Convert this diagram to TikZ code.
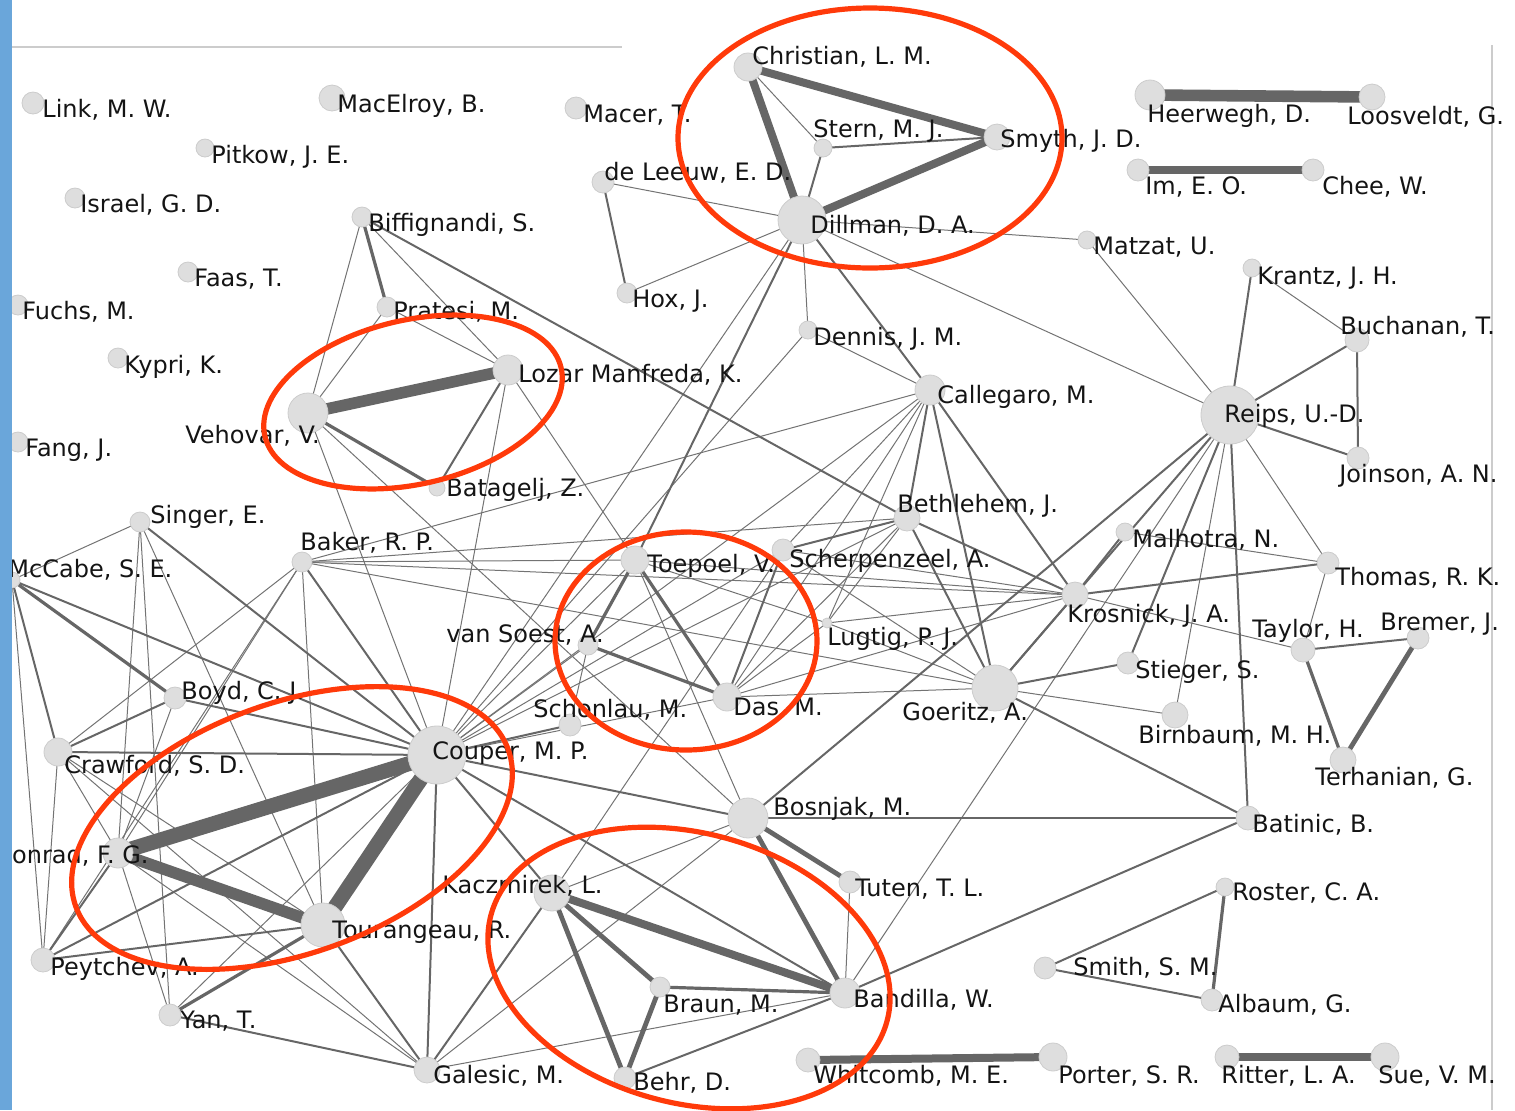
\documentclass[tikz,border=0pt]{standalone}
\usepackage{fontspec}
\setmainfont{DejaVu Sans}
\usetikzlibrary{backgrounds}
\definecolor{ringred}{HTML}{FF3A0A}
\definecolor{barblue}{HTML}{6AA6DA}

\begin{document}
\begin{tikzpicture}[x=0.5pt, y=-0.5pt,
  dot/.style={circle, fill=black!13, draw=black!20, line width=0.4pt, inner sep=0pt, minimum size=9pt},
  lbl/.style={anchor=base west, inner sep=0pt, font=\fontsize{12}{14}\selectfont, text=black!92},
  e1/.style={draw=black!55, line width=0.5pt},
  e2/.style={draw=black!60, line width=1pt},
  e3/.style={draw=black!60, line width=1.6pt},
  e4/.style={draw=black!60, line width=2.4pt},
  e5/.style={draw=black!60, line width=4pt},
  e6/.style={draw=black!60, line width=5.8pt},
  e7/.style={draw=black!60, line width=7.5pt},
  ring/.style={draw=ringred, line width=2.6pt}]
\useasboundingbox (0,0) rectangle (1515,1110);

\node[dot,minimum size=11pt](link) at (33,103){};
\node[lbl](link-t) at (42,117){Link, M. W.};
\node[dot,minimum size=13pt](macelroy) at (332,98){};
\node[lbl](macelroy-t) at (337,112){MacElroy, B.};
\node[dot](pitkow) at (205,148){};
\node[lbl](pitkow-t) at (211,163){Pitkow, J. E.};
\node[dot,minimum size=11pt](macer) at (576,108){};
\node[lbl](macer-t) at (583,122){Macer, T.};
\node[dot,minimum size=10pt](israel) at (75,198){};
\node[lbl](israel-t) at (80,212){Israel, G. D.};
\node[dot,minimum size=10pt](biffignandi) at (362,217){};
\node[lbl](biffignandi-t) at (368,231){Biffignandi, S.};
\node[dot,minimum size=10pt](faas) at (188,272){};
\node[lbl](faas-t) at (194,286){Faas, T.};
\node[dot,minimum size=10pt](fuchs) at (18,305){};
\node[lbl](fuchs-t) at (22,319){Fuchs, M.};
\node[dot,minimum size=10pt](pratesi) at (387,307){};
\node[lbl](pratesi-t) at (393,319){Pratesi, M.};
\node[dot,minimum size=10pt](kypri) at (118,358){};
\node[lbl](kypri-t) at (124,373){Kypri, K.};
\node[dot,minimum size=15pt](lozar) at (508,370){};
\node[lbl](lozar-t) at (518,382){Lozar Manfreda, K.};
\node[dot,minimum size=20pt](vehovar) at (308,413){};
\node[lbl](vehovar-t) at (185,443){Vehovar, V.};
\node[dot,minimum size=10pt](fang) at (18,442){};
\node[lbl](fang-t) at (25,456){Fang, J.};
\node[dot,minimum size=8pt](batagelj) at (437,488){};
\node[lbl](batagelj-t) at (446,496){Batagelj, Z.};
\node[dot,minimum size=10pt](singer) at (140,522){};
\node[lbl](singer-t) at (150,523){Singer, E.};
\node[dot,minimum size=10pt](baker) at (302,562){};
\node[lbl](baker-t) at (300,550){Baker, R. P.};
\node[dot,minimum size=8pt](mccabe) at (12,580){};
\node[lbl](mccabe-t) at (8,577){McCabe, S. E.};
\node[dot,minimum size=11pt](boyd) at (175,698){};
\node[lbl](boyd-t) at (181,699){Boyd, C. J.};
\node[dot,minimum size=14pt](crawford) at (58,752){};
\node[lbl](crawford-t) at (64,773){Crawford, S. D.};
\node[dot,minimum size=29pt](couper) at (437,755){};
\node[lbl](couper-t) at (432,759){Couper, M. P.};
\node[dot,minimum size=15pt](conrad) at (118,853){};
\node[lbl](conrad-t) at (-5,863){Conrad, F. G.};
\node[dot,minimum size=12pt](peytchev) at (43,960){};
\node[lbl](peytchev-t) at (50,975){Peytchev, A.};
\node[dot,minimum size=11pt](yan) at (170,1015){};
\node[lbl](yan-t) at (180,1028){Yan, T.};
\node[dot,minimum size=22pt](tourangeau) at (323,925){};
\node[lbl](tourangeau-t) at (332,938){Tourangeau, R.};
\node[dot,minimum size=13pt](galesic) at (427,1070){};
\node[lbl](galesic-t) at (433,1083){Galesic, M.};
\node[dot,minimum size=18pt](kaczmirek) at (552,893){};
\node[lbl](kaczmirek-t) at (442,893){Kaczmirek, L.};
\node[dot,minimum size=10pt](braun) at (660,987){};
\node[lbl](braun-t) at (663,1012){Braun, M.};
\node[dot,minimum size=11pt](behr) at (625,1078){};
\node[lbl](behr-t) at (633,1090){Behr, D.};
\node[dot,minimum size=15pt](bandilla) at (845,993){};
\node[lbl](bandilla-t) at (853,1007){Bandilla, W.};
\node[dot,minimum size=20pt](bosnjak) at (748,818){};
\node[lbl](bosnjak-t) at (773,815){Bosnjak, M.};
\node[dot,minimum size=11pt](tuten) at (850,882){};
\node[lbl](tuten-t) at (855,896){Tuten, T. L.};
\node[dot,minimum size=12pt](whitcomb) at (808,1060){};
\node[lbl](whitcomb-t) at (813,1083){Whitcomb, M. E.};
\node[dot,minimum size=14pt](porter) at (1053,1057){};
\node[lbl](porter-t) at (1058,1083){Porter, S. R.};
\node[dot,minimum size=12pt](ritter) at (1227,1057){};
\node[lbl](ritter-t) at (1221,1083){Ritter, L. A.};
\node[dot,minimum size=14pt](sue) at (1385,1057){};
\node[lbl](sue-t) at (1378,1083){Sue, V. M.};
\node[dot,minimum size=11pt](smith) at (1045,968){};
\node[lbl](smith-t) at (1073,975){Smith, S. M.};
\node[dot,minimum size=11pt](albaum) at (1212,1000){};
\node[lbl](albaum-t) at (1218,1012){Albaum, G.};
\node[dot](roster) at (1225,887){};
\node[lbl](roster-t) at (1232,900){Roster, C. A.};
\node[dot,minimum size=12pt](batinic) at (1248,818){};
\node[lbl](batinic-t) at (1252,832){Batinic, B.};
\node[dot,minimum size=13pt](terhanian) at (1343,760){};
\node[lbl](terhanian-t) at (1315,785){Terhanian, G.};
\node[dot,minimum size=13pt](birnbaum) at (1175,715){};
\node[lbl](birnbaum-t) at (1138,743){Birnbaum, M. H.};
\node[dot,minimum size=11pt](bremer) at (1418,638){};
\node[lbl](bremer-t) at (1380,630){Bremer, J.};
\node[dot,minimum size=12pt](taylor) at (1303,650){};
\node[lbl](taylor-t) at (1252,637){Taylor, H.};
\node[dot,minimum size=11pt](stieger) at (1128,663){};
\node[lbl](stieger-t) at (1135,678){Stieger, S.};
\node[dot,minimum size=23pt](goeritz) at (995,688){};
\node[lbl](goeritz-t) at (902,720){Goeritz, A.};
\node[dot,minimum size=14pt](das) at (727,697){};
\node[lbl](das-t) at (733,715){Das, M.};
\node[dot,minimum size=11pt](schonlau) at (570,725){};
\node[lbl](schonlau-t) at (533,717){Schonlau, M.};
\node[dot,minimum size=10pt](vansoest) at (588,645){};
\node[lbl](vansoest-t) at (446,642){van Soest, A.};
\node[dot,minimum size=14pt](toepoel) at (635,560){};
\node[lbl](toepoel-t) at (647,572){Toepoel, V.};
\node[dot,minimum size=11pt](scherpenzeel) at (783,550){};
\node[lbl](scherpenzeel-t) at (789,567){Scherpenzeel, A.};
\node[dot,minimum size=5pt](lugtig) at (827,623){};
\node[lbl](lugtig-t) at (827,645){Lugtig, P. J.};
\node[dot,minimum size=13pt](bethlehem) at (907,518){};
\node[lbl](bethlehem-t) at (897,512){Bethlehem, J.};
\node[dot,minimum size=15pt](callegaro) at (930,390){};
\node[lbl](callegaro-t) at (937,403){Callegaro, M.};
\node[dot](dennis) at (808,330){};
\node[lbl](dennis-t) at (813,345){Dennis, J. M.};
\node[dot,minimum size=13pt](krosnick) at (1075,595){};
\node[lbl](krosnick-t) at (1067,622){Krosnick, J. A.};
\node[dot](malhotra) at (1125,532){};
\node[lbl](malhotra-t) at (1132,547){Malhotra, N.};
\node[dot,minimum size=11pt](thomas) at (1328,563){};
\node[lbl](thomas-t) at (1335,585){Thomas, R. K.};
\node[dot,minimum size=29pt](reips) at (1230,415){};
\node[lbl](reips-t) at (1224,422){Reips, U.-D.};
\node[dot,minimum size=11pt](joinson) at (1358,458){};
\node[lbl](joinson-t) at (1339,482){Joinson, A. N.};
\node[dot,minimum size=12pt](buchanan) at (1357,340){};
\node[lbl](buchanan-t) at (1340,334){Buchanan, T.};
\node[dot](krantz) at (1252,268){};
\node[lbl](krantz-t) at (1257,284){Krantz, J. H.};
\node[dot](matzat) at (1087,240){};
\node[lbl](matzat-t) at (1093,254){Matzat, U.};
\node[dot,minimum size=10pt](hox) at (627,293){};
\node[lbl](hox-t) at (632,307){Hox, J.};
\node[dot,minimum size=11pt](deleeuw) at (603,182){};
\node[lbl](deleeuw-t) at (604,180){de Leeuw, E. D.};
\node[dot,minimum size=24pt](dillman) at (802,220){};
\node[lbl](dillman-t) at (810,233){Dillman, D. A.};
\node[dot](stern) at (823,148){};
\node[lbl](stern-t) at (813,137){Stern, M. J.};
\node[dot,minimum size=14pt](christian) at (748,67){};
\node[lbl](christian-t) at (752,64){Christian, L. M.};
\node[dot,minimum size=13pt](smyth) at (997,137){};
\node[lbl](smyth-t) at (1000,147){Smyth, J. D.};
\node[dot,minimum size=15pt](heerwegh) at (1150,95){};
\node[lbl](heerwegh-t) at (1147,122){Heerwegh, D.};
\node[dot,minimum size=13pt](loosveldt) at (1372,97){};
\node[lbl](loosveldt-t) at (1347,124){Loosveldt, G.};
\node[dot,minimum size=11pt](im) at (1138,170){};
\node[lbl](im-t) at (1145,194){Im, E. O.};
\node[dot,minimum size=11pt](chee) at (1313,170){};
\node[lbl](chee-t) at (1322,194){Chee, W.};

\begin{scope}[on background layer]
\draw[black!20, line width=0.6pt] (12,47) -- (622,47);
\draw[black!20, line width=0.6pt] (1492,45) -- (1492,1110);
\foreach \a/\b in {christian/stern, deleeuw/dillman, hox/dillman, dillman/matzat, dillman/dennis, dillman/reips, matzat/reips, dillman/couper, dennis/callegaro, dennis/couper, krantz/buchanan, reips/thomas, reips/birnbaum, reips/bandilla, malhotra/thomas, krosnick/taylor, taylor/thomas, callegaro/baker, callegaro/das, callegaro/scherpenzeel, callegaro/lugtig, callegaro/couper, bethlehem/lugtig, bethlehem/das, bethlehem/baker, bethlehem/couper, scherpenzeel/krosnick, scherpenzeel/goeritz, scherpenzeel/couper, das/lugtig, das/goeritz, das/krosnick, das/couper, toepoel/lugtig, toepoel/krosnick, toepoel/couper, lugtig/goeritz, lugtig/krosnick, baker/toepoel, baker/krosnick, baker/goeritz, baker/crawford, baker/conrad, baker/tourangeau, baker/peytchev, vansoest/couper, vansoest/schonlau, lozar/das, lozar/couper, vehovar/couper, vehovar/bosnjak, vehovar/biffignandi, vehovar/pratesi, pratesi/lozar, biffignandi/lozar, singer/mccabe, singer/conrad, singer/yan, singer/tourangeau, mccabe/peytchev, crawford/conrad, crawford/tourangeau, crawford/galesic, crawford/peytchev, boyd/conrad, conrad/yan, conrad/galesic, yan/couper, galesic/bandilla, bosnjak/galesic, bosnjak/kaczmirek, toepoel/bosnjak, kaczmirek/scherpenzeel, goeritz/birnbaum, tuten/bandilla}
  \draw[e1] (\a.center) -- (\b.center);
\foreach \a/\b in {deleeuw/hox, stern/smyth, stern/dillman, dillman/callegaro, dillman/toepoel, callegaro/bethlehem, callegaro/goeritz, bethlehem/scherpenzeel, bethlehem/goeritz, bethlehem/krosnick, biffignandi/bethlehem, krosnick/malhotra, krosnick/thomas, krosnick/goeritz, reips/krantz, reips/buchanan, reips/stieger, reips/goeritz, reips/batinic, buchanan/joinson, goeritz/stieger, goeritz/batinic, taylor/bremer, bosnjak/batinic, batinic/bandilla, behr/bandilla, das/scherpenzeel, lozar/batagelj, mccabe/crawford, mccabe/couper, boyd/couper, boyd/crawford, baker/couper, crawford/couper, peytchev/conrad, peytchev/couper, peytchev/tourangeau, yan/galesic, couper/galesic, tourangeau/galesic, couper/bosnjak, couper/bandilla, couper/kaczmirek, kaczmirek/galesic, smith/roster, smith/albaum, singer/couper, callegaro/krosnick, reips/bosnjak, schonlau/couper, reips/joinson}
  \draw[e2] (\a.center) -- (\b.center);
\foreach \a/\b in {vehovar/batagelj, toepoel/das, toepoel/vansoest, vansoest/das, taylor/terhanian, roster/albaum, mccabe/boyd, yan/tourangeau, braun/bandilla, biffignandi/pratesi}
  \draw[e3] (\a.center) -- (\b.center);
\foreach \a/\b in {bremer/terhanian, bosnjak/tuten, bosnjak/bandilla, kaczmirek/braun, kaczmirek/behr, braun/behr}
  \draw[e4] (\a.center) -- (\b.center);
\foreach \a/\b in {christian/smyth, christian/dillman, dillman/smyth, im/chee, kaczmirek/bandilla, whitcomb/porter, ritter/sue}
  \draw[e5] (\a.center) -- (\b.center);
\foreach \a/\b in {conrad/tourangeau, vehovar/lozar, heerwegh/loosveldt}
  \draw[e6] (\a.center) -- (\b.center);
\foreach \a/\b in {couper/conrad, couper/tourangeau}
  \draw[e7] (\a.center) -- (\b.center);
\end{scope}

\draw[ring] (870,138) ellipse [x radius=96pt, y radius=65pt];
\draw[ring, rotate around={13:(413,402)}] (413,402) ellipse [x radius=76pt, y radius=41pt];
\draw[ring] (686,641) ellipse [x radius=65.5pt, y radius=54.5pt];
\draw[ring, rotate around={20:(292,828)}] (292,828) ellipse [x radius=115pt, y radius=62.5pt];
\draw[ring, rotate around={-15:(689,968)}] (689,968) ellipse [x radius=102.5pt, y radius=67.5pt];
\fill[barblue] (0,0) rectangle (12,1110);
\end{tikzpicture}
\end{document}
